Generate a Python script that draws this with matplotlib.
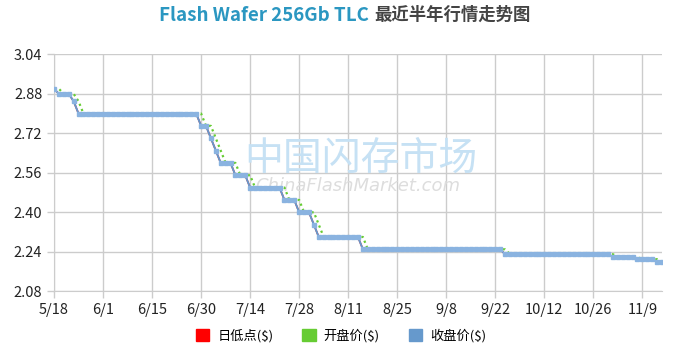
import matplotlib
matplotlib.use("Agg")
import matplotlib.pyplot as plt
from matplotlib.patches import Patch
import numpy as np

plt.rcParams['font.family'] = ['Noto Sans CJK SC', 'DejaVu Sans']

# tick labels, one every 10 trading days
date_labels = ['5/18', '6/1', '6/15', '6/30', '7/14', '7/28', '8/11',
               '8/25', '9/8', '9/22', '10/12', '10/26', '11/9']

# closing price ($), 125 trading days
close = [2.90, 2.88, 2.88, 2.88, 2.85, 2.80, 2.80, 2.80, 2.80, 2.80,
         2.80, 2.80, 2.80, 2.80, 2.80, 2.80, 2.80, 2.80, 2.80, 2.80,
         2.80, 2.80, 2.80, 2.80, 2.80, 2.80, 2.80, 2.80, 2.80, 2.80,
         2.75, 2.75, 2.70, 2.65, 2.60, 2.60, 2.60, 2.55, 2.55, 2.55,
         2.50, 2.50, 2.50, 2.50, 2.50, 2.50, 2.50, 2.45, 2.45, 2.45,
         2.40, 2.40, 2.40, 2.35, 2.30, 2.30, 2.30, 2.30, 2.30, 2.30,
         2.30, 2.30, 2.30, 2.25, 2.25, 2.25, 2.25, 2.25, 2.25, 2.25,
         2.25, 2.25, 2.25, 2.25, 2.25, 2.25, 2.25, 2.25, 2.25, 2.25,
         2.25, 2.25, 2.25, 2.25, 2.25, 2.25, 2.25, 2.25, 2.25, 2.25,
         2.25, 2.25, 2.23, 2.23, 2.23, 2.23, 2.23, 2.23, 2.23, 2.23,
         2.23, 2.23, 2.23, 2.23, 2.23, 2.23, 2.23, 2.23, 2.23, 2.23,
         2.23, 2.23, 2.23, 2.23, 2.22, 2.22, 2.22, 2.22, 2.22, 2.21,
         2.21, 2.21, 2.21, 2.20, 2.20]

# opening price ($)
open_ = [2.90, 2.90, 2.88, 2.88, 2.88, 2.85, 2.80, 2.80, 2.80, 2.80,
         2.80, 2.80, 2.80, 2.80, 2.80, 2.80, 2.80, 2.80, 2.80, 2.80,
         2.80, 2.80, 2.80, 2.80, 2.80, 2.80, 2.80, 2.80, 2.80, 2.80,
         2.80, 2.75, 2.75, 2.70, 2.65, 2.60, 2.60, 2.60, 2.55, 2.55,
         2.55, 2.50, 2.50, 2.50, 2.50, 2.50, 2.50, 2.50, 2.45, 2.45,
         2.45, 2.40, 2.40, 2.40, 2.35, 2.30, 2.30, 2.30, 2.30, 2.30,
         2.30, 2.30, 2.30, 2.30, 2.25, 2.25, 2.25, 2.25, 2.25, 2.25,
         2.25, 2.25, 2.25, 2.25, 2.25, 2.25, 2.25, 2.25, 2.25, 2.25,
         2.25, 2.25, 2.25, 2.25, 2.25, 2.25, 2.25, 2.25, 2.25, 2.25,
         2.25, 2.25, 2.25, 2.23, 2.23, 2.23, 2.23, 2.23, 2.23, 2.23,
         2.23, 2.23, 2.23, 2.23, 2.23, 2.23, 2.23, 2.23, 2.23, 2.23,
         2.23, 2.23, 2.23, 2.23, 2.23, 2.22, 2.22, 2.22, 2.22, 2.22,
         2.21, 2.21, 2.21, 2.21, 2.20]

# daily low ($) - sits under the close line
low = list(close)

yticks = [2.08, 2.24, 2.40, 2.56, 2.72, 2.88, 3.04]

RED, GREEN, BLUE = '#ff0000', '#66cc33', '#6699cc'
GRID = '#cccccc'

fig = plt.figure(figsize=(6.82, 3.53), dpi=100)
ax = fig.add_axes([54/682, 61.7/353, 608/682, 237/353])

x = np.arange(len(close))
ax.plot(x, low, color=RED, lw=1.2, zorder=2)
ax.plot(x, open_, color=GREEN, lw=1.6, ls=(0, (1, 1.5)), zorder=3)
ax.plot(x, close, color=BLUE, lw=1.4, marker='s', ms=2.4,
        mfc='#8ab3e0', mec='#8ab3e0', zorder=4)

ax.set_xlim(0, len(close) - 1)
ax.set_ylim(2.08, 3.04)
ax.set_xticks(np.arange(0, len(close), 10))
ax.set_xticklabels(date_labels)
ax.set_yticks(yticks)
ax.set_yticklabels(['%.2f' % v for v in yticks])
ax.grid(True, color=GRID, lw=1)
ax.set_axisbelow(True)
for s in ['top', 'right']:
    ax.spines[s].set_visible(False)
for s in ['left', 'bottom']:
    ax.spines[s].set_color(GRID)
ax.tick_params(colors=GRID, labelcolor='#222222', labelsize=10.5, length=5, width=1)

# watermark
ax.text(0.505, 0.56, '中国闪存市场', transform=ax.transAxes, ha='center', va='center',
        fontsize=28, color='#c6e1f4', zorder=1)
ax.text(0.5, 0.445, 'ChinaFlashMarket.com', transform=ax.transAxes, ha='center',
        va='center', fontsize=13, color='#dddddd', style='italic',
        family='DejaVu Sans', zorder=1)

# two-colour title
fig.text(0.541, 0.957, 'Flash Wafer 256Gb TLC', ha='right', va='center',
         fontsize=13.5, fontweight='bold', color='#2b97c1')
fig.text(0.549, 0.957, '最近半年行情走势图', ha='left', va='center',
         fontsize=12.5, fontweight='bold', color='#444444')

handles = [Patch(color=RED), Patch(color=GREEN), Patch(color=BLUE)]
fig.legend(handles, ['日低点($)', '开盘价($)', '收盘价($)'], loc='center',
           bbox_to_anchor=(0.5, 0.048), ncol=3, frameon=False, fontsize=9.5,
           handlelength=1.0, handleheight=1.0, handletextpad=0.6, columnspacing=2.2)

fig.savefig('out.png', dpi=100)
